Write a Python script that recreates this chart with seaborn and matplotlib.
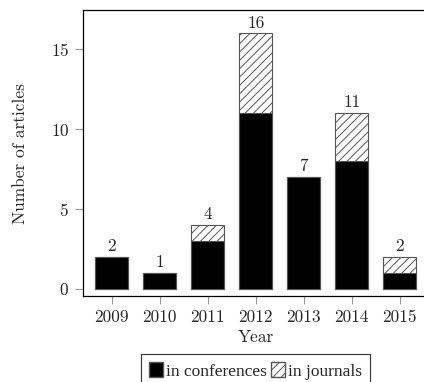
import matplotlib
matplotlib.use("Agg")
import matplotlib.pyplot as plt
import seaborn as sns
import pandas as pd
from matplotlib.patches import Patch

years = ["2009", "2010", "2011", "2012", "2013", "2014", "2015"]
conferences = [2, 1, 3, 11, 7, 8, 1]
journals = [0, 0, 1, 5, 0, 3, 1]
totals = [c + j for c, j in zip(conferences, journals)]

df = pd.DataFrame({"Year": years, "conf": conferences, "total": totals})

sns.set_style("ticks")
plt.rcParams["font.family"] = ["cmr10", "DejaVu Serif"]
plt.rcParams["axes.formatter.use_mathtext"] = True
plt.rcParams["hatch.linewidth"] = 0.7
plt.rcParams["hatch.color"] = "black"

FS = 12.5
HATCH = "////"

fig = plt.figure(figsize=(4.24, 3.82), dpi=100)
ax = fig.add_axes([83 / 424, 86 / 382, 345.5 / 424, 286 / 382])

sns.barplot(data=df, x="Year", y="total", color="white", edgecolor="#555555",
            linewidth=0.8, width=0.69, saturation=1, ax=ax)
sns.barplot(data=df, x="Year", y="conf", color="black", edgecolor="#555555",
            linewidth=0.8, width=0.69, saturation=1, ax=ax)
for p in ax.containers[0]:
    p.set_hatch(HATCH)

ax.bar_label(ax.containers[0], labels=[str(t) for t in totals], padding=2, fontsize=FS)

ax.set_xlim(-0.6, 6.6)
ax.set_ylim(-0.46, 17.47)
ax.set_yticks([0, 5, 10, 15])
ax.set_xlabel("Year", fontsize=FS, labelpad=3)
ax.set_ylabel("Number of articles", fontsize=FS, labelpad=16)
ax.tick_params(axis="both", labelsize=FS, direction="out", length=6,
               color="#999999", width=0.8, pad=4)
for s in ax.spines.values():
    s.set_color("black")
    s.set_linewidth(0.9)

handles = [Patch(facecolor="black", edgecolor="#555555", label="in conferences"),
           Patch(facecolor="white", edgecolor="#555555", hatch=HATCH, label="in journals")]
leg = fig.legend(handles=handles, loc="upper center", bbox_to_anchor=(255.5 / 424, 1 - 354 / 382),
                 ncol=2, frameon=True, fancybox=False, edgecolor="black",
                 handlelength=0.8, handleheight=1.0, handletextpad=0.2,
                 columnspacing=0.2, borderpad=0.45, borderaxespad=0,
                 prop={"family": "Liberation Serif", "size": FS})
leg.get_frame().set_linewidth(0.8)

fig.savefig("out.png", dpi=100)
